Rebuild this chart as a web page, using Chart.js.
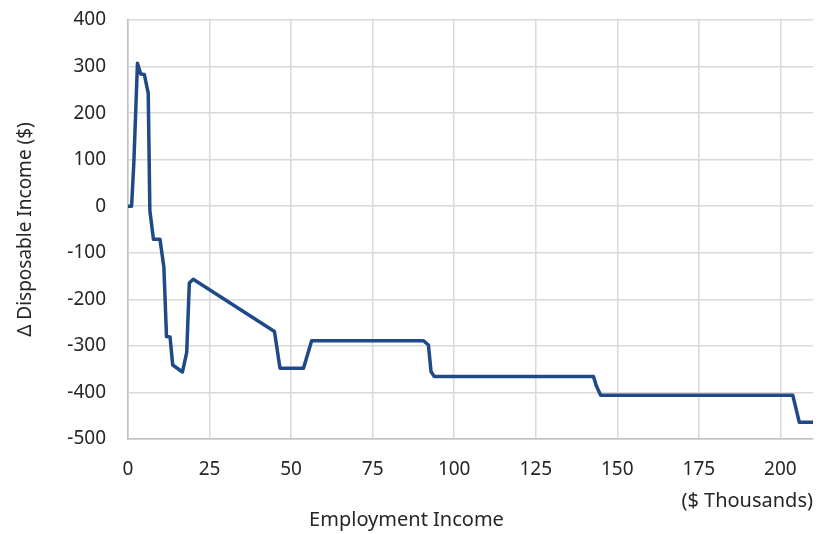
<!DOCTYPE html>
<html>
<head>
<meta charset="utf-8">
<script src="https://cdn.jsdelivr.net/npm/chart.js@4"></script>
<style>
  html, body { margin: 0; padding: 0; background: #fff; }
  #wrap { width: 822px; height: 534px; }
</style>
</head>
<body>
<div id="wrap"><canvas id="chart" width="822" height="534"></canvas></div>
<script>
// Employment income ($ thousands) and change in disposable income ($)
const incomeK = [0, 1.1, 1.8, 2.9, 3.9, 5.0, 6.2, 6.7, 7.8, 9.8, 11.0, 11.8, 12.9, 13.7, 16.7, 18.0, 18.8, 20.0,
  44.9, 46.6, 53.8, 56.3, 90.6, 92.1, 92.9, 93.9, 142.7, 143.6, 144.9, 203.8, 204.7, 205.8, 210];
const deltaIncome = [0, 0, 95, 307, 284, 283, 243, -9, -71, -71, -131, -280, -281, -341, -356, -314, -165, -157,
  -269, -348, -348, -289, -289, -298, -355, -366, -366, -386, -406, -406, -432, -464, -464];

const xTicks = [0, 25, 50, 75, 100, 125, 150, 175, 200];
const yTicks = [-500, -400, -300, -200, -100, 0, 100, 200, 300, 400];

const textColor = '#262626';
const gridColor = '#d9d9d9';
const family = '"Noto Sans", "Open Sans", sans-serif';
const tickFont = { family: family, size: 19 };
const titleFont = { family: family, size: 20, weight: 'normal' };

new Chart(document.getElementById('chart'), {
  type: 'line',
  data: {
    datasets: [{
      data: incomeK.map((x, i) => ({ x: x, y: deltaIncome[i] })),
      borderColor: '#1f4a87',
      borderWidth: 3.5,
      pointRadius: 0,
      tension: 0,
      borderJoinStyle: 'round'
    }]
  },
  options: {
    responsive: false,
    animation: false,
    layout: { padding: { top: 20, right: 9, bottom: 0, left: 0 } },
    plugins: {
      legend: { display: false },
      tooltip: { enabled: false },
      title: {
        display: true,
        position: 'bottom',
        text: 'Employment Income',
        color: textColor,
        font: titleFont,
        padding: { top: 0, bottom: 2 }
      }
    },
    scales: {
      x: {
        type: 'linear',
        min: xTicks[0],
        max: 210,
        afterBuildTicks: s => { s.ticks = xTicks.map(v => ({ value: v })); },
        afterFit: s => { s.height = 69; s.paddingLeft = 0; s.paddingRight = 0; },
        grid: { color: gridColor, lineWidth: 1.5, drawTicks: false },
        border: { color: '#bfbfbf', width: 1.5 },
        ticks: { color: textColor, font: tickFont, padding: 19, maxRotation: 0 },
        title: {
          display: true,
          text: '($ Thousands)',
          align: 'end',
          color: textColor,
          font: titleFont,
          padding: { top: 0, bottom: -5 }
        }
      },
      y: {
        min: yTicks[0],
        max: yTicks[yTicks.length - 1],
        afterBuildTicks: s => { s.ticks = yTicks.map(v => ({ value: v })); },
        afterFit: s => { s.width = 128; s.paddingTop = 0; s.paddingBottom = 0; },
        grid: { color: gridColor, lineWidth: 1.5, drawTicks: false },
        border: { color: '#bfbfbf', width: 1.5 },
        ticks: { color: textColor, font: tickFont, padding: 22 },
        title: {
          display: true,
          text: '\u0394 Disposable Income ($)',
          color: textColor,
          font: { family: family, size: 19, weight: 'normal' },
          padding: { top: 14, bottom: 0 }
        }
      }
    }
  }
});
</script>
</body>
</html>
